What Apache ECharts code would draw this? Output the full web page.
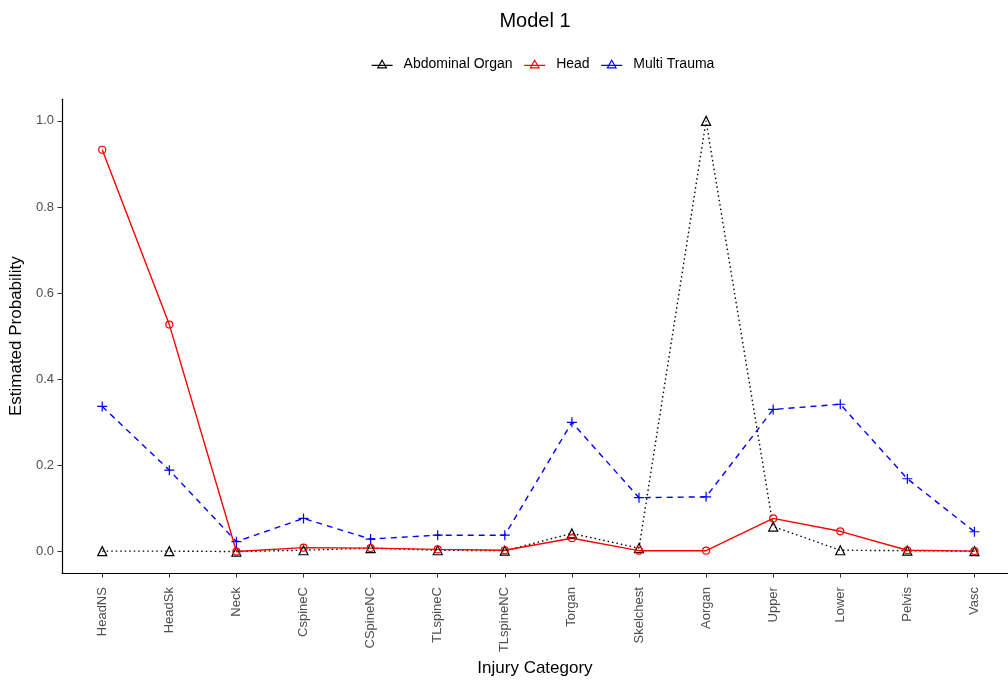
<!DOCTYPE html>
<html>
<head>
<meta charset="utf-8">
<title>Model 1</title>
<script src="https://cdn.jsdelivr.net/npm/echarts@6/dist/echarts.min.js"></script>
<style>
  html, body { margin: 0; padding: 0; background: #ffffff; }
  #chart { width: 1008px; height: 682px; }
</style>
</head>
<body>
<div id="chart"></div>
<script>
// Injury categories along the x axis
const categories = ['HeadNS', 'HeadSk', 'Neck', 'CspineC', 'CSpineNC', 'TLspineC', 'TLspineNC',
  'Torgan', 'Skelchest', 'Aorgan', 'Upper', 'Lower', 'Pelvis', 'Vasc'];

// Estimated probability per category for each injury class
const abdominalOrgan = [0.001, 0.001, 0.000, 0.003, 0.008, 0.003, 0.002, 0.042, 0.008, 1.000, 0.058, 0.003, 0.002, 0.001];
const head = [0.933, 0.527, 0.000, 0.009, 0.008, 0.005, 0.003, 0.031, 0.002, 0.002, 0.077, 0.047, 0.003, 0.001];
const multiTrauma = [0.337, 0.189, 0.023, 0.077, 0.029, 0.038, 0.038, 0.300, 0.125, 0.127, 0.330, 0.342, 0.169, 0.046];

// Y axis tick labels
const yTicks = [0.0, 0.2, 0.4, 0.6, 0.8, 1.0];

const FONT = 'Liberation Sans, Arial, sans-serif';
const PLUS = 'path://M0,-5L0,5M-5,0L5,0';
const LEGEND_ICON = 'path://M0,7L22,7M11,1.5L15.5,9.5L6.5,9.5Z';

const chart = echarts.init(document.getElementById('chart'), null, { renderer: 'canvas' });

function pairs(values) {
  return values.map((v, i) => [i, v]);
}

const seriesDefs = [
  { name: 'Abdominal Organ', values: abdominalOrgan, color: '#000000', dash: [1.5, 3],
    symbol: 'triangle', size: 9 },
  { name: 'Head', values: head, color: '#FF0000', dash: null,
    symbol: 'circle', size: 7 },
  { name: 'Multi Trauma', values: multiTrauma, color: '#0000FF', dash: [6, 5],
    symbol: PLUS, size: 10 }
];

const option = {
  backgroundColor: '#ffffff',
  animation: false,
  title: {
    text: 'Model 1',
    left: 530,
    top: 6,
    textAlign: 'center',
    textStyle: { fontFamily: FONT, fontSize: 20, fontWeight: 'normal', color: '#000000' }
  },
  legend: {
    top: 52,
    left: 366,
    itemWidth: 21,
    itemHeight: 11,
    itemGap: 11,
    textStyle: { fontFamily: FONT, fontSize: 14, color: '#000000', padding: [0, 0, 0, 6] },
    data: seriesDefs.map(s => ({
      name: s.name,
      icon: LEGEND_ICON,
      itemStyle: { color: 'transparent', borderColor: s.color, borderWidth: 1.2 }
    }))
  },
  grid: {
    left: 60,
    right: 0,
    top: 99.35,
    bottom: 106.35,
    containLabel: false
  },
  xAxis: {
    type: 'value',
    min: -0.6,
    max: 13.5,
    name: 'Injury Category',
    nameLocation: 'middle',
    nameGap: 82,
    nameTextStyle: { fontFamily: FONT, fontSize: 17, color: '#000000' },
    splitLine: { show: false },
    axisLine: { show: true, onZero: false, lineStyle: { color: '#000000', width: 1.2 } },
    axisTick: {
      show: true,
      length: 4.5,
      lineStyle: { color: '#333333', width: 1 },
      customValues: categories.map((c, i) => i)
    },
    axisLabel: {
      rotate: 90,
      margin: 14,
      fontFamily: FONT,
      fontSize: 13,
      color: '#4D4D4D',
      customValues: categories.map((c, i) => i),
      formatter: v => categories[Math.round(v)] || ''
    }
  },
  yAxis: {
    type: 'value',
    min: -0.05,
    max: 1.05,
    name: 'Estimated Probability',
    nameLocation: 'middle',
    nameGap: 36,
    nameTextStyle: { fontFamily: FONT, fontSize: 17, color: '#000000' },
    splitLine: { show: false },
    axisLine: { show: true, onZero: false, lineStyle: { color: '#000000', width: 1.2 } },
    axisTick: {
      show: true,
      length: 4.5,
      lineStyle: { color: '#333333', width: 1 },
      customValues: yTicks
    },
    axisLabel: {
      margin: 8,
      fontFamily: FONT,
      fontSize: 13,
      color: '#4D4D4D',
      customValues: yTicks,
      formatter: v => v.toFixed(1)
    }
  },
  series: seriesDefs.map(s => ({
    name: s.name,
    type: 'line',
    data: pairs(s.values),
    symbol: s.symbol,
    symbolSize: s.size,
    showAllSymbol: true,
    lineStyle: { color: s.color, width: 1.4, type: s.dash || 'solid' },
    itemStyle: { color: 'transparent', borderColor: s.color, borderWidth: 1.2 },
    emphasis: { disabled: true }
  }))
};

chart.setOption(option);
</script>
</body>
</html>
